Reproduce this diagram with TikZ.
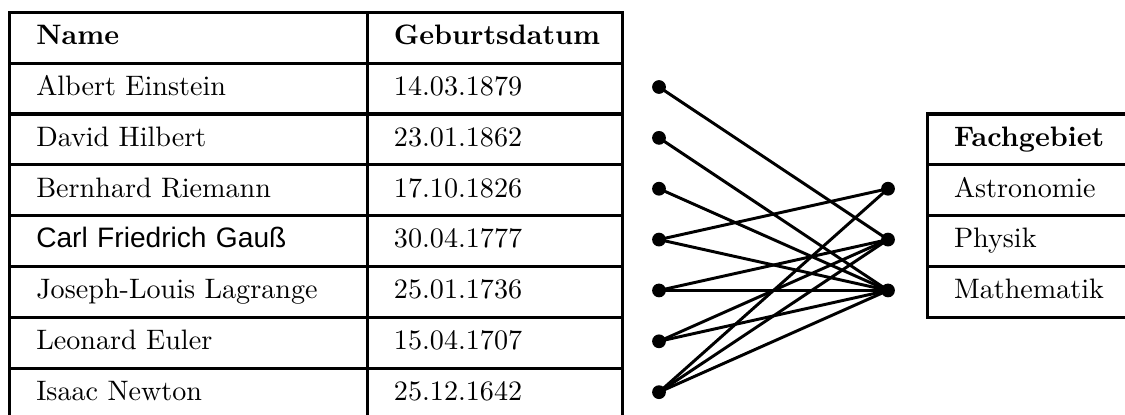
\documentclass[tikz,border=0pt]{standalone}
\usepackage{fontspec}
\newfontfamily\gaussfont{Liberation Sans}
\begin{document}
\begin{tikzpicture}[x=0.3555pt, y=-0.3555pt,
  cell/.style={draw, line width=1.1pt, anchor=north west, minimum height=18.08pt,
    inner ysep=0pt, inner xsep=9.4pt, align=left},
  c1/.style={cell, text width=108.36pt},
  c2/.style={cell, text width=71.75pt},
  c3/.style={cell, text width=57.6pt},
  dot/.style={circle, fill=black, inner sep=0pt, minimum size=4.9pt},
  conn/.style={line width=1.05pt}]
\path[use as bounding box] (0,0) rectangle (1125,414);
% left table
\node[c1] (n0) at (8.3,10.7)   {\strut\bfseries Name};
\node[c2] (d0) at (366,10.7)   {\strut\bfseries Geburtsdatum};
\node[c1] (n1) at (8.3,61.56)  {\strut Albert Einstein};
\node[c2] (d1) at (366,61.56)  {\strut 14.03.1879};
\node[c1] (n2) at (8.3,112.42) {\strut David Hilbert};
\node[c2] (d2) at (366,112.42) {\strut 23.01.1862};
\node[c1] (n3) at (8.3,163.28) {\strut Bernhard Riemann};
\node[c2] (d3) at (366,163.28) {\strut 17.10.1826};
\node[c1] (n4) at (8.3,214.14) {\strut\gaussfont Carl Friedrich Gauß};
\node[c2] (d4) at (366,214.14) {\strut 30.04.1777};
\node[c1] (n5) at (8.3,265.0)  {\strut Joseph-Louis Lagrange};
\node[c2] (d5) at (366,265.0)  {\strut 25.01.1736};
\node[c1] (n6) at (8.3,315.86) {\strut Leonard Euler};
\node[c2] (d6) at (366,315.86) {\strut 15.04.1707};
\node[c1] (n7) at (8.3,366.72) {\strut Isaac Newton};
\node[c2] (d7) at (366,366.72) {\strut 25.12.1642};
% right table
\node[c3] (f0) at (926,112.42) {\strut\bfseries Fachgebiet};
\node[c3] (f1) at (926,163.28) {\strut Astronomie};
\node[c3] (f2) at (926,214.14) {\strut Physik};
\node[c3] (f3) at (926,265.0)  {\strut Mathematik};
% dots
\node[dot] (p1) at (659,86.99) {};
\node[dot] (p2) at (659,137.85) {};
\node[dot] (p3) at (659,188.71) {};
\node[dot] (p4) at (659,239.57) {};
\node[dot] (p5) at (659,290.43) {};
\node[dot] (p6) at (659,341.29) {};
\node[dot] (p7) at (659,392.15) {};
\node[dot] (q1) at (888,188.71) {};
\node[dot] (q2) at (888,239.57) {};
\node[dot] (q3) at (888,290.43) {};
% connectors
\draw[conn] (p1.center) -- (q2.center);
\draw[conn] (p2.center) -- (q3.center);
\draw[conn] (p3.center) -- (q3.center);
\draw[conn] (p4.center) -- (q1.center);
\draw[conn] (p4.center) -- (q3.center);
\draw[conn] (p5.center) -- (q2.center);
\draw[conn] (p5.center) -- (q3.center);
\draw[conn] (p6.center) -- (q2.center);
\draw[conn] (p6.center) -- (q3.center);
\draw[conn] (p7.center) -- (q1.center);
\draw[conn] (p7.center) -- (q2.center);
\draw[conn] (p7.center) -- (q3.center);
\end{tikzpicture}
\end{document}
